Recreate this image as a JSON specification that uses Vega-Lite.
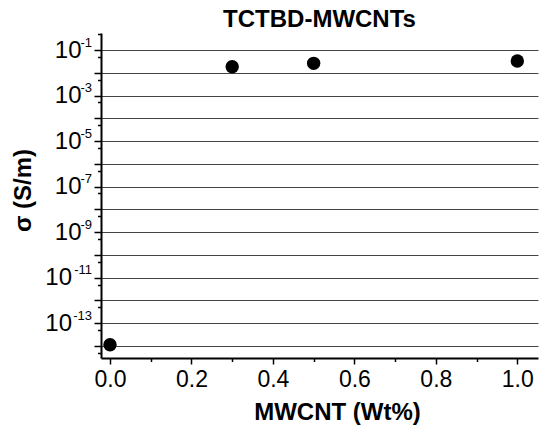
{
  "$schema": "https://vega.github.io/schema/vega-lite/v6.json",
  "width": 437,
  "height": 325,
  "autosize": {"type": "none"},
  "padding": {"left": 101, "top": 33, "right": 12, "bottom": 76},
  "background": "white",
  "config": {
    "view": {"stroke": null},
    "font": "Liberation Sans",
    "axis": {"labelFont": "Liberation Sans", "titleFont": "Liberation Sans", "labelColor": "black", "titleColor": "black"}
  },
  "title": {
    "text": "TCTBD-MWCNTs",
    "fontSize": 24,
    "fontWeight": "bold",
    "anchor": "middle",
    "baseline": "alphabetic",
    "offset": 6,
    "dy": 24,
    "color": "black"
  },
  "data": {
    "values": [
      {"wt": 0.0, "sigma": 1.14e-14},
      {"wt": 0.3, "sigma": 1.85e-2},
      {"wt": 0.5, "sigma": 2.6e-2},
      {"wt": 1.0, "sigma": 3.3e-2}
    ]
  },
  "layer": [
    {
      "mark": {"type": "point", "filled": true, "color": "black", "opacity": 1, "size": 180},
      "encoding": {
        "x": {
          "field": "wt", "type": "quantitative",
          "scale": {"domain": [-0.0221, 1.0508], "nice": false, "zero": false},
          "axis": {
            "orient": "bottom",
            "title": "MWCNT (Wt%)",
            "values": [0, 0.2, 0.4, 0.6, 0.8, 1.0],
            "format": ".1f",
            "grid": false,
            "domainColor": "black", "domainWidth": 2,
            "tickColor": "black", "tickWidth": 1.5, "tickSize": 6,
            "labelFontSize": 23, "labelPadding": 4,
            "titleFontSize": 24, "titleFontWeight": "bold",
            "titleBaseline": "alphabetic", "titleY": 61, "titleX": 236
          }
        },
        "y": {
          "field": "sigma", "type": "quantitative",
          "scale": {"type": "log", "domain": [2.97e-15, 0.559], "nice": false, "zero": false},
          "axis": {
            "orient": "left",
            "title": "σ (S/m)",
            "values": [1e-1, 1e-2, 1e-3, 1e-4, 1e-5, 1e-6, 1e-7, 1e-8, 1e-9, 1e-10, 1e-11, 1e-12, 1e-13, 1e-14],
            "labelExpr": "round(-log(datum.value) / LN10) % 2 == 1 ? '10' : ''",
            "labelOverlap": false,
            "labelFlush": false,
            "labelAlign": "right",
            "labelBaseline": "middle",
            "grid": true, "gridColor": "#444444", "gridWidth": 1.2, "gridOpacity": 1,
            "domainColor": "black", "domainWidth": 2,
            "tickColor": "black", "tickWidth": 1.5, "tickSize": 7,
            "labelFontSize": 24,
            "labelPadding": {"condition": {"test": "datum.value < 1e-10", "value": 22.5}, "value": 13},
            "titleFontSize": 24, "titleFontWeight": "bold",
            "titleBaseline": "alphabetic", "titleAngle": -90, "titleX": -71, "titleY": 157
          }
        }
      }
    },
    {
      "mark": {"type": "point", "opacity": 0},
      "encoding": {
        "x": {
          "field": "wt", "type": "quantitative",
          "axis": {
            "orient": "bottom", "title": null, "labels": false, "grid": false, "domain": false,
            "values": [0.1, 0.3, 0.5, 0.7, 0.9],
            "tickColor": "black", "tickWidth": 1.5, "tickSize": 3.5
          }
        },
        "y": {
          "field": "sigma", "type": "quantitative",
          "axis": {
            "orient": "left", "title": null, "labels": false, "grid": false, "domain": false,
            "values": [5e-1, 5e-2, 5e-3, 5e-4, 5e-5, 5e-6, 5e-7, 5e-8, 5e-9, 5e-10, 5e-11, 5e-12, 5e-13, 5e-14, 5e-15],
            "tickColor": "black", "tickWidth": 1.5, "tickSize": 3.5
          }
        }
      }
    },
    {
      "mark": {"type": "point", "opacity": 0},
      "encoding": {
        "x": {"field": "wt", "type": "quantitative", "axis": null},
        "y": {
          "field": "sigma", "type": "quantitative",
          "axis": {
            "orient": "left", "title": null, "grid": false, "domain": false, "ticks": false, "tickSize": 0,
            "values": [1e-1, 1e-3, 1e-5, 1e-7, 1e-9, 1e-11, 1e-13],
            "labelExpr": "'-' + format(round(-log(datum.value) / LN10), 'd')",
            "labelOverlap": false,
            "labelFlush": false,
            "labelAlign": "right",
            "labelBaseline": "middle",
            "labelOffset": -8,
            "labelFontSize": 13,
            "labelPadding": 9.5,
            "labelColor": "black"
          }
        }
      }
    }
  ],
  "resolve": {"axis": {"x": "independent", "y": "independent"}}
}
